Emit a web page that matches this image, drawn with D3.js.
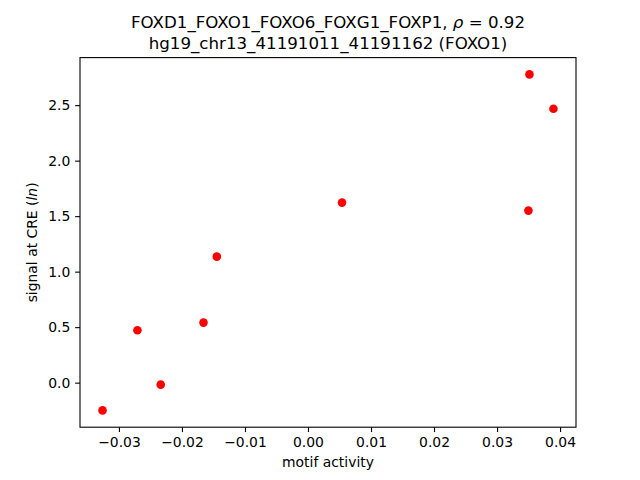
<!DOCTYPE html>
<html><head><meta charset="utf-8">
<script src="https://cdn.jsdelivr.net/npm/d3@7"></script>
<style>body{margin:0;background:#fff}svg{display:block}text{font-family:"DejaVu Sans",sans-serif;fill:#000}</style>
</head><body>
<script>
const motifActivity = [-0.0326, -0.02707, -0.02337, -0.01658, -0.01447, 0.0054, 0.03498, 0.03514, 0.03895];
const signal = [-0.250, 0.472, -0.018, 0.541, 1.135, 1.622, 1.550, 2.777, 2.468];
const xTicks = [-0.03, -0.02, -0.01, 0.00, 0.01, 0.02, 0.03, 0.04];
const yTicks = [0.0, 0.5, 1.0, 1.5, 2.0, 2.5];
const titleLines = ["FOXD1_FOXO1_FOXO6_FOXG1_FOXP1, ", "hg19_chr13_41191011_41191162 (FOXO1)"];

const W = 640, H = 480;
const L = 80, R = 576, T = 57.6, B = 427.2;
const svg = d3.select("body").append("svg").attr("width", W).attr("height", H);

function pad(ext){const r=ext[1]-ext[0];return [ext[0]-0.05*r, ext[1]+0.05*r];}
const x = d3.scaleLinear().domain(pad(d3.extent(motifActivity))).range([L, R]);
const y = d3.scaleLinear().domain(pad(d3.extent(signal))).range([B, T]);

const fmt = v => { const s = (Math.abs(v) < 1e-12 ? 0 : v).toFixed(2); return s.replace("-", "\u2212"); };
const xAxis = d3.axisBottom(x).tickValues(xTicks).tickSize(4.86).tickPadding(4.86).tickFormat(fmt);
const yAxis = d3.axisLeft(y).tickValues(yTicks).tickSize(4.86).tickPadding(4.86).tickFormat(d => d.toFixed(1));

const gx = svg.append("g").attr("transform", `translate(0,${B})`).call(xAxis);
const gy = svg.append("g").attr("transform", `translate(${L},0)`).call(yAxis);
[gx, gy].forEach(g => {
  g.select(".domain").remove();
  g.selectAll(".tick line").attr("stroke", "#000").attr("stroke-width", 1.1);
  g.selectAll(".tick text").attr("font-size", "13.9px").attr("fill", "#000").style("font-family", "DejaVu Sans");
});

svg.append("rect").attr("x", L).attr("y", T).attr("width", R - L).attr("height", B - T)
  .attr("fill", "none").attr("stroke", "#000").attr("stroke-width", 1.1);

svg.append("g").selectAll("circle").data(motifActivity).join("circle")
  .attr("cx", (d) => x(d)).attr("cy", (d, i) => y(signal[i])).attr("r", 4.3).attr("fill", "#ff0000");

const t1 = svg.append("text").attr("x", (L + R) / 2).attr("y", 28).attr("text-anchor", "middle").attr("font-size", "16.67px");
t1.append("tspan").text(titleLines[0]);
t1.append("tspan").attr("font-style", "italic").text("\u03c1");
t1.append("tspan").text(" = 0.92");
svg.append("text").attr("x", (L + R) / 2).attr("y", 49).attr("text-anchor", "middle").attr("font-size", "16.67px").text(titleLines[1]);

svg.append("text").attr("x", (L + R) / 2).attr("y", 467).attr("text-anchor", "middle").attr("font-size", "13.9px").text("motif activity");
const yl = svg.append("text").attr("transform", `translate(37,${(T + B) / 2}) rotate(-90)`).attr("text-anchor", "middle").attr("font-size", "13.9px");
yl.append("tspan").text("signal at CRE (");
yl.append("tspan").attr("font-style", "italic").text("ln");
yl.append("tspan").text(")");
</script>
</body></html>
